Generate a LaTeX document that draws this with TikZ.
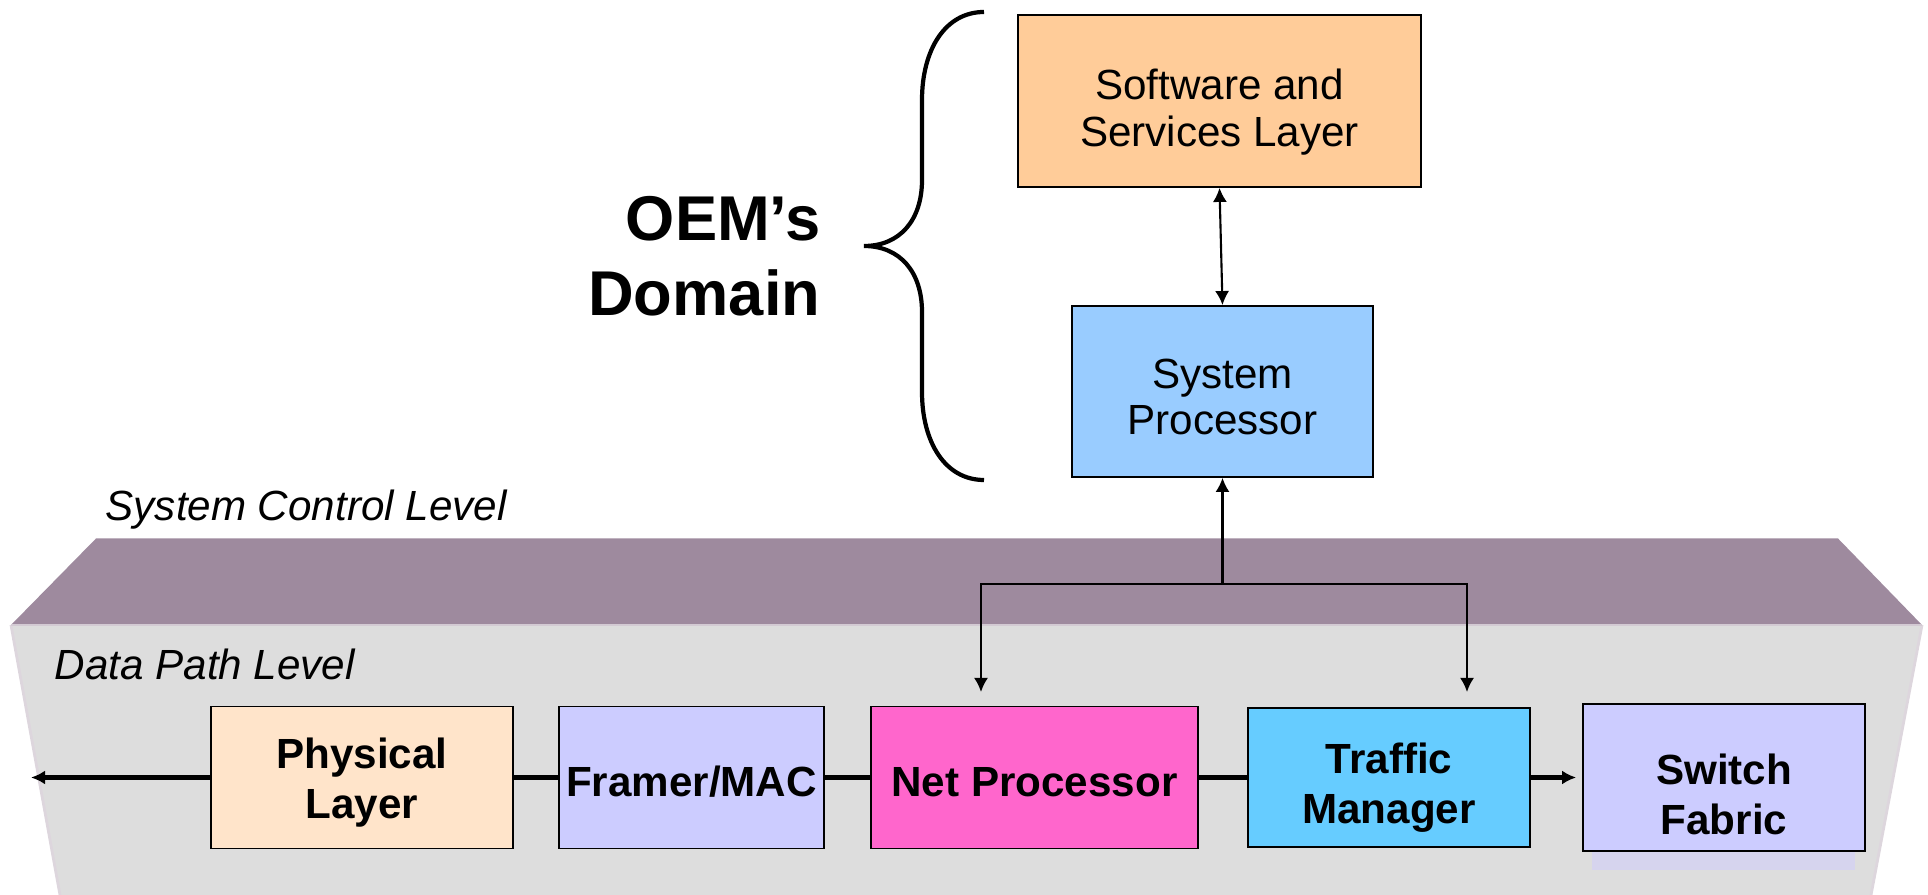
\documentclass[tikz,border=0pt]{standalone}
\usepackage{fontspec}
\setmainfont{Liberation Sans}
\usetikzlibrary{arrows.meta}

\definecolor{peche}{HTML}{FFCC99}
\definecolor{ciel}{HTML}{99CCFF}
\definecolor{beige}{HTML}{FFE4CA}
\definecolor{lavande}{HTML}{CCCCFF}
\definecolor{rose}{HTML}{FF66CC}
\definecolor{turquoise}{HTML}{66CCFF}
\definecolor{mauve}{HTML}{9E8A9E}
\definecolor{grisfond}{HTML}{DDDDDD}
\definecolor{fantome}{HTML}{D6D4EE}

\tikzset{
	boite/.style={draw=black, line width=0.5pt, align=center, inner sep=0pt},
	haut/.style={boite, font=\fontsize{12}{13.2}\selectfont},
	bas/.style={boite, minimum height=1.42cm, font=\bfseries\fontsize{12}{14.2}\selectfont},
	niveau/.style={anchor=base west, inner sep=0pt, font=\itshape\fontsize{12}{14}\selectfont},
	fin/.style={line width=0.6pt},
	epais/.style={line width=1.2pt}
}

\begin{document}
\begin{tikzpicture}[>={Latex[length=4pt,width=4pt]}]
				\useasboundingbox (0,0) rectangle (19.28,8.95);
				% Niveaux
				\fill[grisfond] (0.11,2.70) -- (19.22,2.70) -- (18.71,0) -- (0.60,0) -- cycle;
				\draw[mauve!35,line width=0.8pt] (0.11,2.70) -- (0.60,0);
				\draw[mauve!35,line width=0.8pt] (19.22,2.70) -- (18.71,0);
				\fill[mauve] (0.96,3.565) -- (18.38,3.565) -- (19.22,2.70) -- (0.11,2.70) -- cycle;
				\draw[mauve!45,line width=0.6pt] (0.11,2.70) -- (19.22,2.70);
				\node[niveau] (controle) at (1.05,3.74) {System Control Level};
				\node[niveau] (donnees) at (0.54,2.15) {Data Path Level};
				% Domaine OEM
				\node[anchor=east,inner sep=0pt,align=right,font=\bfseries\fontsize{18}{21.3}\selectfont] (oem) at (8.21,6.385) {OEM’s\\Domain};
				\draw[line width=1.2pt] (9.84,8.83) .. controls (9.45,8.83) and (9.22,8.45) .. (9.22,7.95) -- (9.22,7.15)
					.. controls (9.22,6.75) and (9.00,6.49) .. (8.64,6.49)
					.. controls (9.00,6.49) and (9.22,6.23) .. (9.22,5.83) -- (9.22,5.03)
					.. controls (9.22,4.53) and (9.45,4.15) .. (9.84,4.15);
				% Boites du haut
				\node[haut,fill=peche,minimum width=4.03cm,minimum height=1.72cm,text height=28.2pt] (logiciel) at (12.195,7.94) {Software and\\Services Layer};
				\node[haut,fill=ciel,minimum width=3.01cm,minimum height=1.71cm,text height=24.7pt] (sysproc) at (12.225,5.035) {System\\Processor};
				% Chemin de donnees
				\node[bas,fill=beige,minimum width=3.02cm,text height=25.7pt] (phys) at (3.62,1.175) {Physical\\Layer};
				\node[bas,fill=lavande,minimum width=2.65cm,text height=10.9pt] (mac) at (6.915,1.175) {Framer/MAC};
				\node[bas,fill=rose,minimum width=3.27cm,text height=10.9pt] (netproc) at (10.345,1.175) {Net Processor};
				\node[bas,fill=turquoise,minimum width=2.82cm,minimum height=1.39cm,text height=28.9pt] (trafic) at (13.89,1.175) {Traffic\\Manager};
				\fill[fantome] (15.92,0.25) rectangle (18.55,0.44);
				\node[bas,fill=lavande,minimum width=2.82cm,minimum height=1.47cm,
					label={[align=center,font=\bfseries\fontsize{12}{14.2}\selectfont,yshift=-1.7mm]center:Switch\\Fabric}] (fabric) at (17.24,1.175) {};
				% Fleches
				\coordinate (sortie) at (0.31,1.175);
				\draw[epais,->] (phys.west) -- (sortie);
				\draw[epais] (phys.east) -- (mac.west);
				\draw[epais] (mac.east) -- (netproc.west);
				\draw[epais] (netproc.east) -- (trafic.west);
				\draw[epais,->,shorten >=0.6mm] (trafic.east) -- (fabric.west);
				\coordinate (fourche) at (12.225,3.11);
				\coordinate (versnp) at (9.81,2.03);
				\coordinate (verstm) at (14.67,2.03);
				\draw[fin,->] (fourche) -- (sysproc.south);
				\draw[fin,->] (fourche) -| (versnp);
				\draw[fin,->] (fourche) -| (verstm);
				\draw[fin,<->] (logiciel.south) -- (sysproc.north);
\end{tikzpicture}
\end{document}
